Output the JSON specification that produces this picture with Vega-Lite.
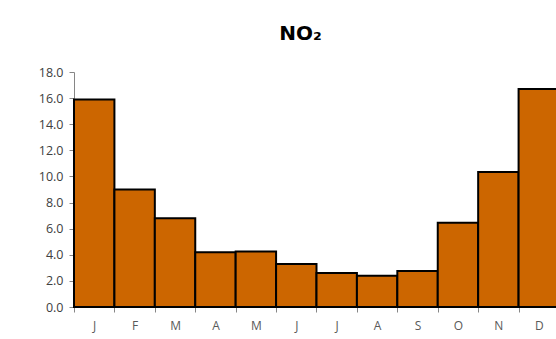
{
  "$schema": "https://vega.github.io/schema/vega-lite/v6.json",
  "autosize": {"type": "none"},
  "padding": {"left": 74, "top": 72, "right": 0, "bottom": 32},
  "width": 485,
  "height": 235,
  "background": "white",
  "title": {
    "text": "NO₂",
    "font": "DejaVu Sans",
    "fontSize": 20,
    "fontWeight": "bold",
    "color": "#000000",
    "anchor": "middle",
    "dx": -16,
    "offset": 22
  },
  "data": {
    "values": [
      {"order": 1, "month": "J", "value": 15.9},
      {"order": 2, "month": "F", "value": 9.0},
      {"order": 3, "month": "M", "value": 6.8},
      {"order": 4, "month": "A", "value": 4.2},
      {"order": 5, "month": "M ", "value": 4.25},
      {"order": 6, "month": "J ", "value": 3.3},
      {"order": 7, "month": "J  ", "value": 2.6},
      {"order": 8, "month": "A ", "value": 2.4},
      {"order": 9, "month": "S", "value": 2.75},
      {"order": 10, "month": "O", "value": 6.45},
      {"order": 11, "month": "N", "value": 10.35},
      {"order": 12, "month": "D", "value": 16.7}
    ]
  },
  "mark": {"type": "bar", "fill": "#CC6600", "stroke": "#000000", "strokeWidth": 2},
  "encoding": {
    "x": {
      "field": "month",
      "type": "nominal",
      "sort": {"field": "order"},
      "scale": {"paddingInner": 0, "paddingOuter": 0},
      "axis": {
        "title": null,
        "labelAngle": 0,
        "tickBand": "extent",
        "domainColor": "#868686",
        "tickColor": "#868686",
        "tickSize": 5,
        "labelFont": "Open Sans",
        "labelFontSize": 12,
        "labelColor": "#595959",
        "labelPadding": 8,
        "grid": false
      }
    },
    "y": {
      "field": "value",
      "type": "quantitative",
      "scale": {"domain": [0, 18], "nice": false},
      "axis": {
        "title": null,
        "values": [0, 2, 4, 6, 8, 10, 12, 14, 16, 18],
        "format": ".1f",
        "grid": false,
        "domainColor": "#868686",
        "tickColor": "#868686",
        "tickSize": 5,
        "labelFont": "Open Sans",
        "labelFontSize": 12.5,
        "labelColor": "#404040",
        "labelPadding": 6
      }
    }
  },
  "config": {"view": {"stroke": null}}
}
